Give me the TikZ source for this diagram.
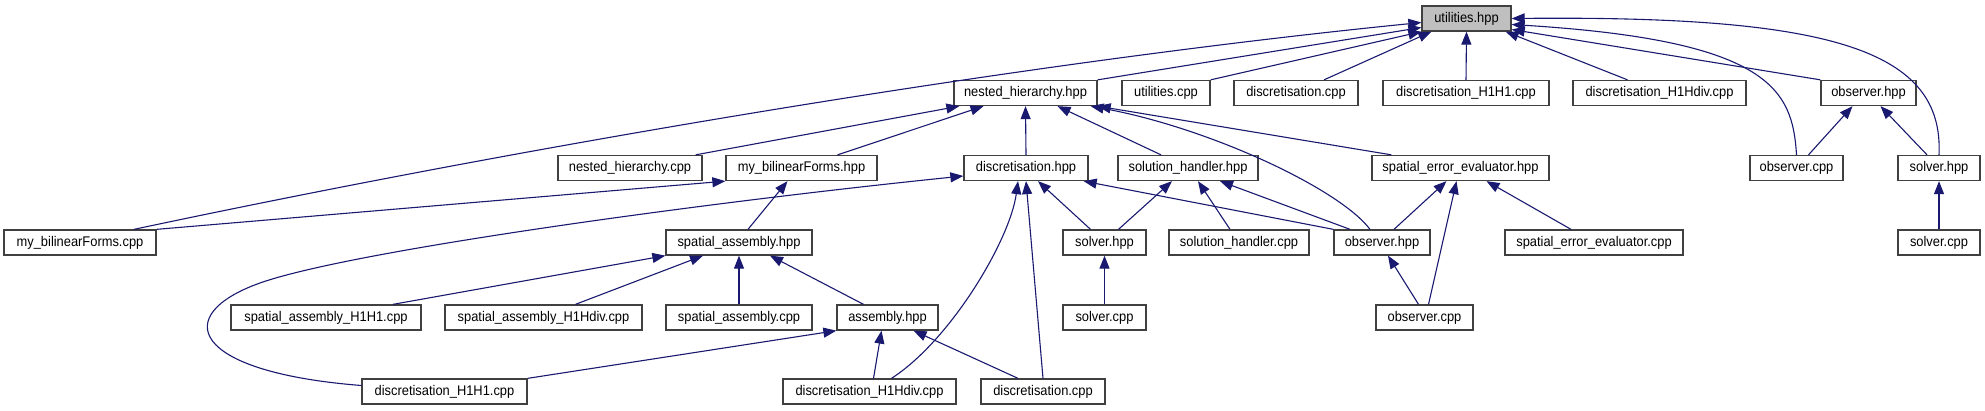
\documentclass[tikz,border=0pt]{standalone}
\usepackage{fontspec}
\setmainfont{Liberation Sans}[FakeStretch=0.92]
\usetikzlibrary{arrows.meta}
\definecolor{edgeblue}{HTML}{191970}
\definecolor{rootgray}{HTML}{BFBFBF}

\begin{document}
\begin{tikzpicture}[
        x=0.5pt, y=-0.5pt,
        file/.style={
            rectangle,
            draw=black!75,
            line width=0.65pt,
            minimum height=12.5pt,
            inner sep=0pt,
            font=\fontsize{7}{8}\selectfont
        },
        root/.style={
            file,
            fill=rootgray
        },
        dep/.style={
            -{Triangle[length=6.5pt,width=5pt]},
            line width=0.55pt,
            draw=edgeblue
        }
    ]

    \useasboundingbox (0,0) rectangle (1985,411);

    % files, row by row
    \node[root, minimum width=44.5pt] (uhpp) at (1466.5, 18.5) {utilities.hpp};

    \foreach \name/\x/\w/\label in {
        nhhpp/1025.5/71.5/nested\_hierarchy.hpp,
        ucpp/1166/44/utilities.cpp,
        dcpp1/1296/62/discretisation.cpp,
        dh1cpp1/1466/83/discretisation\_H1H1.cpp,
        dhdcpp1/1659.5/86.5/discretisation\_H1Hdiv.cpp,
        obshpp1/1868.5/47.5/observer.hpp} {
        \node[file, minimum width=\w pt] (\name) at (\x, 93) {\label};
    }

    \foreach \name/\x/\w/\label in {
        nhcpp/630/72/nested\_hierarchy.cpp,
        mbfhpp/801.5/75.5/my\_bilinearForms.hpp,
        dhpp/1026/62/discretisation.hpp,
        shhpp/1188/70/solution\_handler.hpp,
        seehpp/1460.5/88.5/spatial\_error\_evaluator.hpp,
        obscpp1/1796.5/46.5/observer.cpp,
        solhpp1/1939/41/solver.hpp} {
        \node[file, minimum width=\w pt] (\name) at (\x, 168) {\label};
    }

    \foreach \name/\x/\w/\label in {
        mbfcpp/80/76/my\_bilinearForms.cpp,
        sahpp/739/73/spatial\_assembly.hpp,
        solhpp2/1104.5/41.5/solver.hpp,
        shcpp/1239/70/solution\_handler.cpp,
        obshpp2/1382/48/observer.hpp,
        seecpp/1594/89/spatial\_error\_evaluator.cpp,
        solcpp1/1939/41/solver.cpp} {
        \node[file, minimum width=\w pt] (\name) at (\x, 242.5) {\label};
    }

    \foreach \name/\x/\w/\label in {
        sah1cpp/326/95/spatial\_assembly\_H1H1.cpp,
        sahdcpp/543.5/98.5/spatial\_assembly\_H1Hdiv.cpp,
        sacpp/739/73/spatial\_assembly.cpp,
        ahpp/887.5/50.5/assembly.hpp,
        solcpp2/1104.5/41.5/solver.cpp,
        obscpp2/1424.5/48.5/observer.cpp} {
        \node[file, minimum width=\w pt] (\name) at (\x, 317.5) {\label};
    }

    \foreach \name/\x/\w/\label in {
        dh1cpp2/444.5/82.5/discretisation\_H1H1.cpp,
        dhdcpp2/869.5/86.5/discretisation\_H1Hdiv.cpp,
        dcpp2/1043/62/discretisation.cpp} {
        \node[file, minimum width=\w pt] (\name) at (\x, 391.5) {\label};
    }

    % into utilities.hpp
    \draw[dep] ([xshift=27pt]mbfcpp.north) .. controls +(400,-85) and +(-400,40) .. ([yshift=-2pt]uhpp.west);
    \draw[dep] (nhhpp.north east) -- ([yshift=-4.5pt]uhpp.west);
    \draw[dep] (ucpp.north east) -- (uhpp.south west);
    \draw[dep] ([xshift=14pt]dcpp1.north) -- ([xshift=5pt]uhpp.south west);
    \draw[dep] (dh1cpp1.north) -- (uhpp.south);
    \draw[dep] ([xshift=-16pt]dhdcpp1.north) -- ([xshift=-3pt]uhpp.south east);
    \draw[dep] (obshpp1.north west) -- ([yshift=-5.5pt]uhpp.east);
    \draw[dep] (obscpp1.north) .. controls +(-4,-65) and +(259,16) .. ([yshift=-3pt]uhpp.east);
    \draw[dep] (solhpp1.north) .. controls +(5,-105) and +(319,-3) .. (uhpp.east);

    % into nested_hierarchy.hpp
    \draw[dep] ([xshift=-3.5pt]nhcpp.north east) -- ([xshift=3pt]nhhpp.south west);
    \draw[dep] ([xshift=18pt]mbfhpp.north) -- ([xshift=-21pt]nhhpp.south);
    \draw[dep] (dhpp.north) -- (nhhpp.south);
    \draw[dep] ([xshift=-13.5pt]shhpp.north) -- ([xshift=16pt]nhhpp.south);
    \draw[dep] ([xshift=10pt]seehpp.north west) -- (nhhpp.south east);
    \draw[dep] ([xshift=-6pt]obshpp2.north) .. controls +(-30,-40) and +(120,22) .. ([xshift=-3.5pt]nhhpp.south east);

    % into my_bilinearForms.hpp
    \draw[dep] (mbfcpp.north east) -- (mbfhpp.south west);
    \draw[dep] ([xshift=4.5pt]sahpp.north) -- ([xshift=-7pt]mbfhpp.south);

    % into discretisation.hpp
    \draw[dep] ([yshift=3pt]dh1cpp2.west) .. controls (190,372) and (170,315) .. (260,283)
        .. controls (350,251) and (700,203) .. ([yshift=-4pt]dhpp.west);
    \draw[dep] ([xshift=11pt]dhdcpp2.north) .. controls +(59,-38) and +(-8,59) .. ([xshift=-4pt]dhpp.south);
    \draw[dep] (dcpp2.north) -- (dhpp.south);
    \draw[dep] ([xshift=-7pt]solhpp2.north) -- ([xshift=6pt]dhpp.south);
    \draw[dep] (obshpp2.north west) -- ([xshift=-2.5pt]dhpp.south east);

    % into solution_handler.hpp
    \draw[dep] ([xshift=7pt]solhpp2.north) -- ([xshift=-8pt]shhpp.south);
    \draw[dep] ([xshift=-4.5pt]shcpp.north) -- ([xshift=5pt]shhpp.south);
    \draw[dep] ([xshift=-16pt]obshpp2.north) -- ([xshift=16pt]shhpp.south);

    % into spatial_error_evaluator.hpp
    \draw[dep] ([xshift=6pt]obshpp2.north) -- ([xshift=-7pt]seehpp.south);
    \draw[dep] ([xshift=2pt]obscpp2.north) -- ([xshift=-2pt]seehpp.south);
    \draw[dep] ([xshift=-11.5pt]seecpp.north) -- ([xshift=13pt]seehpp.south);

    % observer.hpp and solver.hpp on the right
    \draw[dep] ([xshift=6pt]obscpp1.north) -- ([xshift=-8pt]obshpp1.south);
    \draw[dep] ([xshift=-6pt]solhpp1.north) -- ([xshift=6pt]obshpp1.south);
    \draw[dep] (solcpp1.north) -- (solhpp1.south);

    % into spatial_assembly.hpp
    \draw[dep] ([xshift=33.5pt]sah1cpp.north) -- (sahpp.south west);
    \draw[dep] ([xshift=16pt]sahdcpp.north) -- ([xshift=-18pt]sahpp.south);
    \draw[dep] (sacpp.north) -- (sahpp.south);
    \draw[dep] ([xshift=-12pt]ahpp.north) -- ([xshift=15.5pt]sahpp.south);

    % into assembly.hpp
    \draw[dep] (dh1cpp2.north east) -- (ahpp.south west);
    \draw[dep] ([xshift=2pt]dhdcpp2.north) -- ([xshift=-3pt]ahpp.south);
    \draw[dep] ([xshift=-12.5pt]dcpp2.north) -- ([xshift=13pt]ahpp.south);

    \draw[dep] (solcpp2.north) -- (solhpp2.south);
    \draw[dep] ([xshift=-3pt]obscpp2.north) -- ([xshift=3pt]obshpp2.south);

\end{tikzpicture}
\end{document}
